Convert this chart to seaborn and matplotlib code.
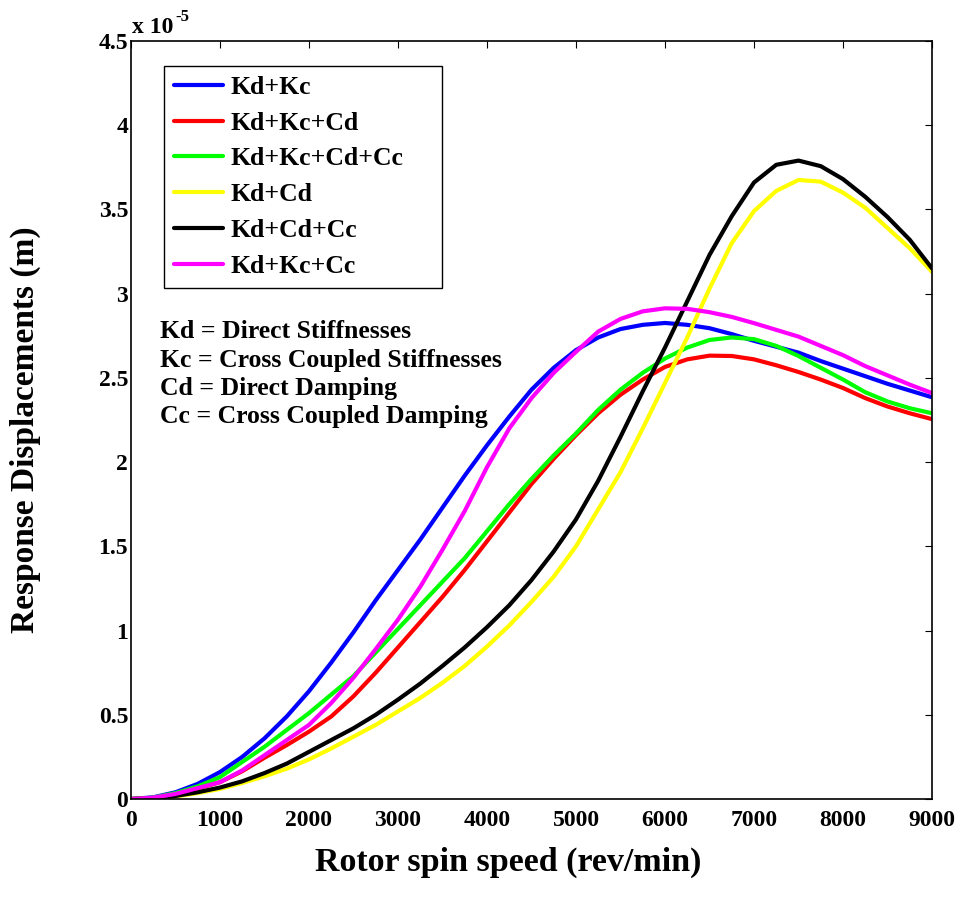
import matplotlib
matplotlib.use("Agg")
import matplotlib.pyplot as plt
import numpy as np
import pandas as pd
import seaborn as sns
from matplotlib.lines import Line2D
from matplotlib.ticker import MultipleLocator, FuncFormatter

# Rotor spin speed (rev/min)
speed = [0, 250, 500, 750, 1000, 1250, 1500, 1750, 2000, 2250, 2500, 2750,
         3000, 3250, 3500, 3750, 4000, 4250, 4500, 4750, 5000, 5250, 5500, 5750,
         6000, 6250, 6500, 6750, 7000, 7250, 7500, 7750, 8000, 8250, 8500, 8750, 9000]

# Response displacement amplitudes, in units of 1e-5 m
kd_kc = [0, 0.01, 0.04, 0.09, 0.16, 0.25, 0.36, 0.49, 0.64, 0.81, 0.99, 1.18,
         1.36, 1.54, 1.73, 1.92, 2.10, 2.27, 2.43, 2.56, 2.665, 2.74, 2.79, 2.815,
         2.826, 2.815, 2.795, 2.76, 2.72, 2.685, 2.65, 2.60, 2.555, 2.51, 2.465, 2.425, 2.385]
kd_kc_cd = [0, 0.006, 0.028, 0.062, 0.10, 0.165, 0.245, 0.32, 0.40, 0.49, 0.61, 0.75,
            0.90, 1.05, 1.20, 1.36, 1.53, 1.70, 1.87, 2.02, 2.16, 2.29, 2.40, 2.49,
            2.565, 2.61, 2.632, 2.63, 2.61, 2.575, 2.535, 2.49, 2.44, 2.38, 2.33, 2.29, 2.255]
kd_kc_cd_cc = [0, 0.008, 0.035, 0.075, 0.13, 0.22, 0.31, 0.41, 0.51, 0.62, 0.73, 0.87,
               1.01, 1.15, 1.29, 1.43, 1.59, 1.75, 1.90, 2.04, 2.17, 2.31, 2.43, 2.53,
               2.615, 2.68, 2.725, 2.74, 2.73, 2.69, 2.63, 2.56, 2.49, 2.415, 2.36, 2.32, 2.29]
kd_cd = [0, 0.003, 0.015, 0.035, 0.06, 0.095, 0.135, 0.18, 0.235, 0.30, 0.37, 0.44,
         0.52, 0.60, 0.69, 0.79, 0.905, 1.03, 1.17, 1.32, 1.50, 1.72, 1.94, 2.20,
         2.47, 2.74, 3.03, 3.30, 3.49, 3.61, 3.675, 3.665, 3.60, 3.51, 3.39, 3.27, 3.13]
kd_cd_cc = [0, 0.004, 0.018, 0.04, 0.068, 0.105, 0.154, 0.21, 0.28, 0.35, 0.42, 0.50,
            0.59, 0.685, 0.79, 0.90, 1.02, 1.15, 1.30, 1.47, 1.66, 1.89, 2.15, 2.42,
            2.68, 2.955, 3.23, 3.46, 3.66, 3.765, 3.79, 3.757, 3.68, 3.575, 3.455, 3.32, 3.15]
kd_kc_cc = [0, 0.008, 0.03, 0.065, 0.10, 0.17, 0.26, 0.35, 0.44, 0.57, 0.72, 0.89,
            1.065, 1.26, 1.48, 1.71, 1.97, 2.20, 2.38, 2.53, 2.655, 2.775, 2.85, 2.895,
            2.913, 2.91, 2.89, 2.862, 2.825, 2.785, 2.745, 2.69, 2.635, 2.57, 2.515, 2.46, 2.41]

cases = ["Kd+Kc", "Kd+Kc+Cd", "Kd+Kc+Cd+Cc", "Kd+Cd", "Kd+Cd+Cc", "Kd+Kc+Cc"]
series = [kd_kc, kd_kc_cd, kd_kc_cd_cc, kd_cd, kd_cd_cc, kd_kc_cc]
colors = ["#0000FF", "#FF0000", "#00FF00", "#FFFF00", "#000000", "#FF00FF"]

notes = ["Kd = Direct Stiffnesses",
         "Kc = Cross Coupled Stiffnesses",
         "Cd = Direct Damping",
         "Cc = Cross Coupled Damping"]

df = pd.concat(
    [pd.DataFrame({"speed": speed, "disp": vals, "case": name})
     for name, vals in zip(cases, series)],
    ignore_index=True,
)

sns.set_style("white")
plt.rcParams["font.family"] = ["Liberation Serif", "DejaVu Serif"]
plt.rcParams["font.weight"] = "bold"
plt.rcParams["text.color"] = "black"
plt.rcParams["axes.labelcolor"] = "black"
plt.rcParams["xtick.color"] = "black"
plt.rcParams["ytick.color"] = "black"

W, H = 957, 898
fig = plt.figure(figsize=(W / 100, H / 100), dpi=100)
ax = fig.add_axes([131 / W, 1 - 799 / H, (932 - 131) / W, (799 - 41) / H])


def fx(px):
    return px / W


def fy(py):
    return 1 - py / H


palette = dict(zip(cases, colors))
sns.lineplot(data=df, x="speed", y="disp", hue="case", hue_order=cases,
             palette=palette, linewidth=3, estimator=None, sort=True,
             legend=False, ax=ax)

ax.set_xlim(0, 9000)
ax.set_ylim(0, 4.5)
ax.xaxis.set_major_locator(MultipleLocator(1000))
ax.yaxis.set_major_locator(MultipleLocator(0.5))
ax.yaxis.set_major_formatter(FuncFormatter(lambda v, p: f"{v:g}"))
ax.xaxis.set_major_formatter(FuncFormatter(lambda v, p: f"{v:g}"))
ax.tick_params(axis="both", direction="in", length=5, width=0.8,
               top=True, right=True, labelsize=17, colors="black",
               labelcolor="black")
ax.tick_params(axis="x", pad=8)
ax.tick_params(axis="y", pad=2)
for lab in ax.get_xticklabels() + ax.get_yticklabels():
    lab.set_fontweight("bold")
for sp in ax.spines.values():
    sp.set_visible(True)
    sp.set_color("black")
    sp.set_linewidth(1.2)
ax.set_xlabel("")
ax.set_ylabel("")

# axis titles
fig.text(fx(508), fy(862), "Rotor spin speed (rev/min)", ha="center", va="center",
         fontsize=24.5, fontweight="bold", color="black")
fig.text(fx(25), fy(430), "Response Displacements (m)", ha="center", va="center",
         rotation=90, fontsize=24, fontweight="bold", color="black")

# exponent multiplier above the y axis
fig.text(fx(132), fy(33), "x 10", ha="left", va="baseline", fontsize=17,
         fontweight="bold", color="black")
fig.text(fx(175), fy(21), "-5", ha="left", va="baseline", fontsize=12,
         fontweight="bold", color="black")

# legend, stretched to a fixed box width
handles = [Line2D([0], [0], color=c, lw=3) for c in colors]
x0, x1, y0 = fx(164), fx(442), fy(66)
leg = ax.legend(handles, cases, loc="upper left", mode="expand",
                bbox_to_anchor=(x0, y0 - 0.01, x1 - x0, 0.01),
                bbox_transform=fig.transFigure,
                borderaxespad=0, handlelength=1.9,
                handletextpad=0.3, borderpad=0.38, labelspacing=0.5,
                frameon=True, fancybox=False, edgecolor="black",
                prop={"weight": "bold", "size": 18.5})
leg.get_frame().set_linewidth(1.0)
leg.get_frame().set_alpha(1)
for t in leg.get_texts():
    t.set_color("black")

# abbreviation key
for i, line in enumerate(notes):
    fig.text(fx(160), fy(332 + 28 * i), line, ha="left", va="center",
             fontsize=18.5, fontweight="bold", color="black")

fig.savefig("out.png", dpi=100, facecolor="white")
